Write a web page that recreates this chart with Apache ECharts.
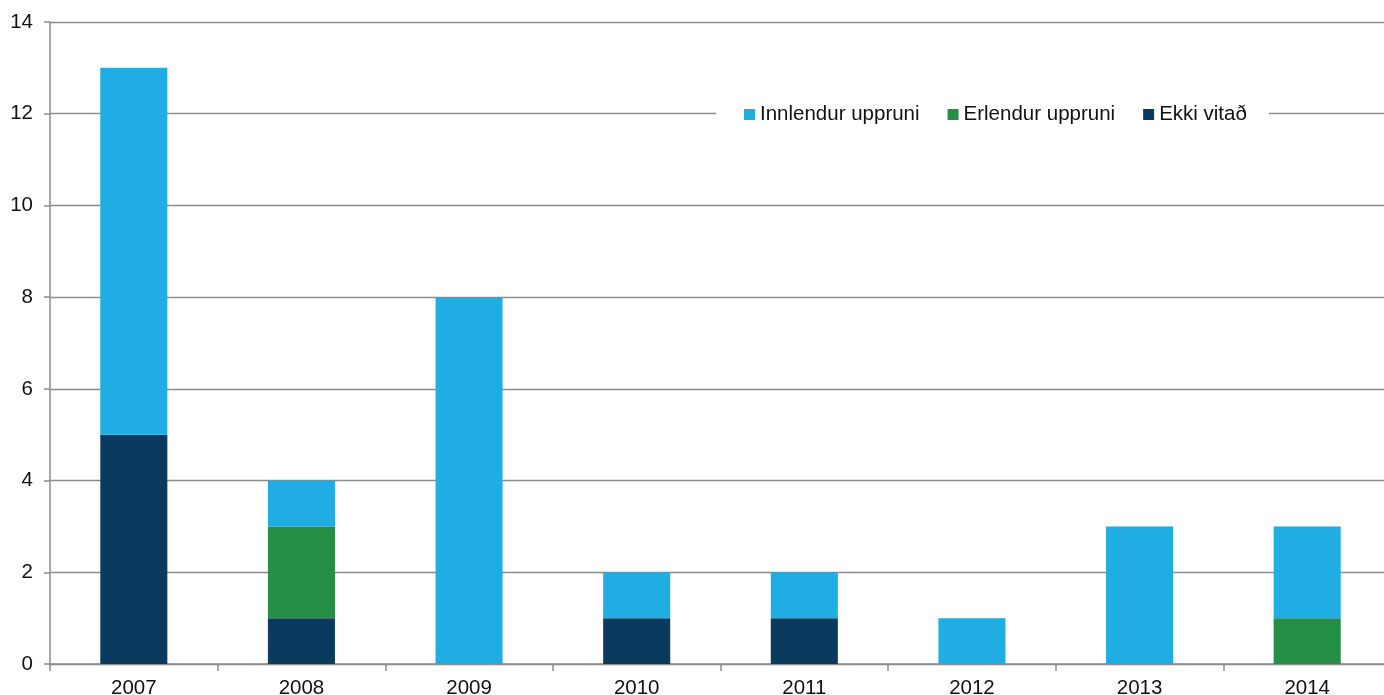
<!DOCTYPE html>
<html>
<head>
<meta charset="utf-8">
<style>
  html, body { margin: 0; padding: 0; background: #fff; overflow: hidden; }
  #chart { width: 1391px; height: 695px; }
</style>
<script src="https://cdn.jsdelivr.net/npm/echarts@6/dist/echarts.min.js"></script>
</head>
<body>
<div id="chart"></div>
<script>
const years = ['2007', '2008', '2009', '2010', '2011', '2012', '2013', '2014']
const innlendur = [8, 1, 8, 1, 1, 1, 3, 2]
const erlendur = [0, 2, 0, 0, 0, 0, 0, 1]
const ekkiVitad = [5, 1, 0, 1, 1, 0, 0, 0]

const chart = echarts.init(document.getElementById('chart'))

const font = 'Liberation Sans, Arial, sans-serif'
const gridColor = '#8c8c8c'
const fs = 20.5

// plotið nær aðeins út fyrir hægri og neðri brún, eins og í fyrirmyndinni
const option = {
  backgroundColor: '#fff',
  animation: false,
  textStyle: { fontFamily: font },
  grid: { left: 50, right: 0, top: 22, bottom: 31, containLabel: false, outerBoundsMode: 'none' },
  legend: {
    data: ['Innlendur uppruni', 'Erlendur uppruni', 'Ekki vitað'],
    left: 716,
    top: 100,
    itemWidth: 11,
    itemHeight: 11,
    itemGap: 28,
    padding: [4, 22, 4, 28],
    backgroundColor: '#fff',
    icon: 'rect',
    textStyle: { fontSize: fs, color: '#111', fontFamily: font, padding: [0, 0, 0, 0] },
  },
  xAxis: {
    type: 'category',
    data: years,
    boundaryGap: true,
    axisLine: { lineStyle: { color: gridColor, width: 1.5 } },
    axisTick: { show: true, length: 7, lineStyle: { color: gridColor, width: 1.5 } },
    axisLabel: { color: '#111', fontSize: fs, margin: 14, fontFamily: font },
  },
  yAxis: {
    type: 'value',
    min: 0,
    max: 14,
    interval: 2,
    axisLine: { show: true, lineStyle: { color: gridColor, width: 1.5 } },
    axisTick: { show: true, length: 6, lineStyle: { color: gridColor, width: 1.5 } },
    axisLabel: { color: '#111', fontSize: fs, margin: 17, fontFamily: font },
    splitLine: { lineStyle: { color: gridColor, width: 1.3 } },
  },
  series: [
    {
      name: 'Ekki vitað',
      type: 'bar',
      stack: 'total',
      data: ekkiVitad,
      barWidth: '40%',
      itemStyle: { color: '#0b3a5f' },
    },
    {
      name: 'Erlendur uppruni',
      type: 'bar',
      stack: 'total',
      data: erlendur,
      barWidth: '40%',
      itemStyle: { color: '#248f45' },
    },
    {
      name: 'Innlendur uppruni',
      type: 'bar',
      stack: 'total',
      data: innlendur,
      barWidth: '40%',
      itemStyle: { color: '#20ade4' },
    },
  ],
}

chart.setOption(option)
</script>
</body>
</html>
